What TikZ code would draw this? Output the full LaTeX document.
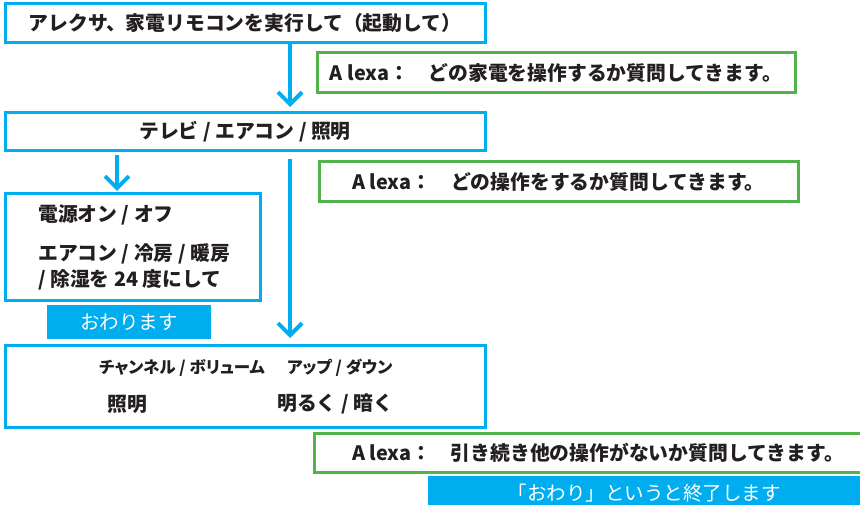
\documentclass[tikz,border=0pt]{standalone}
\usepackage{fontspec}
\setmainfont{Noto Sans CJK JP}
\newfontfamily\propfont{Noto Sans CJK JP}[RawFeature=+palt]
\usepackage{tikz}
\usetikzlibrary{
  arrows.meta,
  positioning,
  calc
}
\definecolor{remoblue}{RGB}{0,174,239}
\definecolor{remogreen}{RGB}{80,180,75}
\definecolor{remotext}{RGB}{35,31,32}

\begin{document}
\begin{tikzpicture}[x=1pt, y=-1pt,
  font=\fontsize{19.8}{24}\selectfont\bfseries, text=remotext,
  stepbox/.style={draw=remoblue, line width=3pt, fill=white, inner sep=0pt},
  askbox/.style={draw=remogreen, line width=3pt, fill=white, inner sep=0pt},
  endbox/.style={fill=remoblue, text=white, inner sep=0pt,
    font=\fontsize{19.5}{24}\selectfont},
  small/.style={anchor=west, inner sep=0pt,
    font=\fontsize{16.5}{20}\selectfont\propfont\bfseries},
  flow/.style={draw=remoblue, line width=4pt,
    -{Straight Barb[length=12pt, width=24pt]}}
]

  \useasboundingbox (0,0) rectangle (860,505);

  %% Steps (blue frames)
  \node[stepbox, minimum width=480pt, minimum height=39pt] (start)
    at (245,23.5) {アレクサ、家電リモコンを実行して（起動して）};
  \node[stepbox, minimum width=480pt, minimum height=38pt] (device)
    at (245,132) {テレビ / エアコン / 照明};
  \node[stepbox, minimum width=255pt, minimum height=107pt] (aircon)
    at (132.5,247.5) {};
  \node[stepbox, minimum width=480pt, minimum height=82pt] (tvlight)
    at (245,386) {};

  %% Texts inside the frames
  \node[anchor=west, inner sep=0pt] (power) at (38,215) {電源オン / オフ};
  \node[anchor=west, inner sep=0pt] (mode) at (38,254) {エアコン / 冷房 / 暖房};
  \node[anchor=west, inner sep=0pt] (dry) at (38,280) {/ 除湿を 24 度にして};

  \node[small] (channel) at (99,368) {チャンネル / ボリューム};
  \node[small] (updown) at (287,368) {アップ / ダウン};
  \node[anchor=west, inner sep=0pt] (light) at (107,404) {照明};
  \node[anchor=west, inner sep=0pt] (bright) at (277,404) {明るく / 暗く};

  %% Alexa questions (green frames)
  \node[askbox, minimum width=478pt, minimum height=40pt] (askdev)
    at (556,73) {A lexa：　どの家電を操作するか質問してきます。};
  \node[askbox, minimum width=479pt, minimum height=40pt] (askop)
    at (558.5,182) {A lexa：　どの操作をするか質問してきます。};
  \node[askbox, minimum width=568pt, minimum height=39pt] (askmore)
    at (598,452.5) {A lexa：　引き続き他の操作がないか質問してきます。};

  %% End notes (blue fills)
  \node[endbox, minimum width=164pt, minimum height=34pt] (end)
    at (129,322) {おわります};
  \node[endbox, minimum width=432pt, minimum height=34pt] (endall)
    at (644,493) {「おわり」というと終了します};

  %% Flow arrows
  \draw[flow] ([xshift=45pt]start.south) -- ([xshift=45pt, yshift=4.5pt]device.north);
  \draw[flow] ([xshift=-128pt, yshift=-3pt]device.south)
    -- ([xshift=-15.5pt, yshift=1.5pt]aircon.north);
  \draw[flow] ([xshift=45pt, yshift=-6.5pt]device.south)
    -- ([xshift=45pt, yshift=5.5pt]tvlight.north);

\end{tikzpicture}
\end{document}
